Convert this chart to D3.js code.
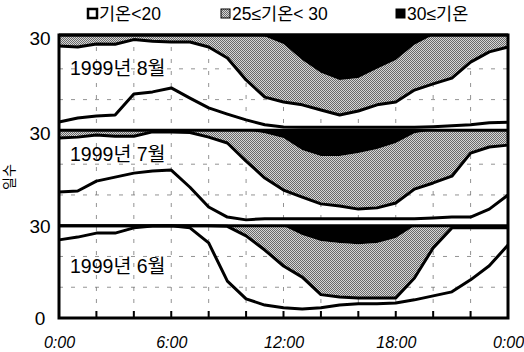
<!DOCTYPE html>
<html><head><meta charset="utf-8">
<script src="https://cdn.jsdelivr.net/npm/d3@7"></script>
<style>
body{margin:0;background:#fff}
svg{display:block}
text{font-family:"Liberation Sans","Noto Sans CJK KR",sans-serif;fill:#000}
</style>
</head><body>
<svg id="c" width="524" height="352"></svg>
<script>
// ---------------- data ----------------
const hours = d3.range(0, 25);                      // 0:00 .. 24:00
const monthLabels = ["1999년 8월", "1999년 7월", "1999년 6월"]; // top -> bottom
const monthDays = [31, 31, 30];
// cumulative counts of days: <20, <25, <30 (top of stack = days in month)
const aug_lt20 = [2.7,4.0,4.7,5.0,11.8,12.5,13.8,10.5,7.3,5.3,3.4,1.8,1.1,1.0,1.0,1.0,1.0,1.0,1.0,1.0,1.2,1.5,1.8,2.5,2.6];
const aug_lt25 = [27.4,27.1,28.1,28.0,29.5,29.0,28.7,28.7,27.1,23.5,16.4,10.8,9.2,8.3,6.6,5.0,6.3,8.3,9.2,13.1,15.1,17.0,22.2,25.5,27.1];
const aug_lt30 = [31,31,31,31,31,31,31,31,31,31,31,30.5,28.1,22.9,18.7,16.4,17.0,20.0,22.9,27.8,31,31,31,31,31];
const jul_lt20 = [11.0,11.3,14.5,15.8,17.1,17.8,18.1,12.5,6.1,2.8,1.9,2.3,2.3,2.3,2.3,2.3,2.3,2.3,2.3,2.3,2.5,2.8,2.8,5.4,10.0];
const jul_lt25 = [28.5,28.8,29.5,29.1,29.1,30.5,30.5,30.3,28.8,26.9,21.0,15.5,11.6,9.3,7.1,6.4,5.4,5.8,7.4,11.9,13.9,16.1,23.6,25.6,26.2];
const jul_lt30 = [31,31,31,31,31,31,31,31,31,31,31,30.1,28.5,24.6,22.7,22.7,23.6,24.9,26.9,30.1,31,31,31,31,31];
const jun_lt20 = [25.4,26.3,27.6,27.6,29.3,29.9,30.0,29.3,24.4,12.0,6.2,4.2,3.3,2.9,3.3,4.2,4.6,4.6,4.9,5.9,7.2,8.5,12.4,17.0,23.7];
const jun_lt25 = [30,30,30,30,30,30,30,30,30,29.8,26.7,22.1,16.9,13.3,7.6,6.8,6.5,6.5,6.5,13.0,22.8,29.3,29.3,29.3,29.3];
const jun_lt30 = [30,30,30,30,30,30,30,30,30,30,30,30,29.9,27.0,25.0,24.4,24.0,24.4,26.0,29.9,30,30,30,30,30];
const xTickHours = [0, 6, 12, 18, 24];
const xTickLabels = ["0:00", "6:00", "12:00", "18:00", "0:00"];
const xMinorHours = d3.range(2, 24, 2);
const yTickLabels = ["30", "30", "30", "0"];
const gridDays = [10, 20];
const legendLabels = ["기온<20", "25≤기온< 30", "30≤기온"];
const yTitle = "일수";

// ---------------- layout ----------------
const svg = d3.select("#c");
const X0 = 59, X1 = 508, YB = 318, YT = 35;
const x = d3.scaleLinear().domain([0, 24]).range([X0, X1]);
const totalDays = d3.sum(monthDays);
const y = d3.scaleLinear().domain([0, totalDays]).range([YB, YT]);
// offsets (cumulative) for each panel, top->bottom order
const offsets = [monthDays[2] + monthDays[1], monthDays[2], 0];
const panels = [
  {lt20: aug_lt20, lt25: aug_lt25, lt30: aug_lt30},
  {lt20: jul_lt20, lt25: jul_lt25, lt30: jul_lt30},
  {lt20: jun_lt20, lt25: jun_lt25, lt30: jun_lt30}
];

const defs = svg.append("defs");
const pat = defs.append("pattern").attr("id", "stip").attr("width", 2).attr("height", 2)
  .attr("patternUnits", "userSpaceOnUse");
pat.append("rect").attr("width", 2).attr("height", 2).attr("fill", "#d6d6d6");
pat.append("rect").attr("width", 1).attr("height", 1).attr("fill", "#6a6a6a");
pat.append("rect").attr("x", 1).attr("y", 1).attr("width", 1).attr("height", 1).attr("fill", "#6a6a6a");

// gridlines
const grid = svg.append("g").attr("stroke", "#777").attr("stroke-width", 0.8)
  .attr("stroke-dasharray", "4,8").attr("fill", "none");
xMinorHours.forEach(h => {
  grid.append("line").attr("x1", x(h)).attr("x2", x(h)).attr("y1", YT).attr("y2", YB);
});
offsets.forEach(off => gridDays.forEach(d => {
  grid.append("line").attr("x1", X0).attr("x2", X1).attr("y1", y(off + d)).attr("y2", y(off + d));
}));

// areas and lines
panels.forEach((p, i) => {
  const off = offsets[i], tot = monthDays[i];
  const g = svg.append("g");
  const grayArea = d3.area().x((d, j) => x(hours[j])).y0((d, j) => y(off + p.lt25[j])).y1((d, j) => y(off + p.lt30[j]));
  const blackArea = d3.area().x((d, j) => x(hours[j])).y0((d, j) => y(off + p.lt30[j])).y1(() => y(off + tot));
  g.append("path").datum(hours).attr("d", grayArea).attr("fill", "url(#stip)");
  g.append("path").datum(hours).attr("d", blackArea).attr("fill", "#000");
  const line = arr => d3.line().x((d, j) => x(hours[j])).y((d, j) => y(off + arr[j]));
  [p.lt20, p.lt25].forEach(arr => {
    g.append("path").datum(hours).attr("d", line(arr)).attr("fill", "none")
      .attr("stroke", "#000").attr("stroke-width", 3).attr("stroke-linejoin", "round");
  });
  g.append("line").attr("x1", X0).attr("x2", X1).attr("y1", y(off + tot)).attr("y2", y(off + tot))
    .attr("stroke", "#000").attr("stroke-width", 3);
  g.append("text").attr("x", 70).attr("y", [75, 161, 273][i]).attr("font-size", 19.5).text(monthLabels[i]);
});

// frame
svg.append("rect").attr("x", X0).attr("y", YT).attr("width", X1 - X0).attr("height", YB - YT)
  .attr("fill", "none").attr("stroke", "#000").attr("stroke-width", 3);

// x axis
const xAxis = d3.axisBottom(x).tickValues(xTickHours).tickFormat((d, i) => xTickLabels[i]).tickSize(0).tickPadding(19);
const ax = svg.append("g").attr("transform", `translate(0,${YB})`).call(xAxis);
ax.select(".domain").remove();
ax.selectAll("text").attr("font-size", 16).attr("font-style", "italic")
  .attr("font-family", "'Liberation Sans', sans-serif");
xMinorHours.forEach(h => {
  svg.append("line").attr("x1", x(h)).attr("x2", x(h)).attr("y1", YB).attr("y2", YB - 7)
    .attr("stroke", "#000").attr("stroke-width", 2);
});

// y labels
const yLabelPos = [offsets[0] + 30, offsets[1] + 30, offsets[2] + 30, 0];
yLabelPos.forEach((v, i) => {
  svg.append("text").attr("x", 40).attr("y", y(v)).attr("dy", "0.36em")
    .attr("text-anchor", "middle").attr("font-size", 19).text(yTickLabels[i]);
});
svg.append("text").attr("transform", "translate(14,177) rotate(-90)").attr("text-anchor", "middle")
  .attr("font-size", 14).text(yTitle);

// legend
const legX = [87, 220, 395];
const fills = ["#fff", "url(#stip)", "#000"];
legendLabels.forEach((t, i) => {
  svg.append("rect").attr("x", legX[i] + 1).attr("y", 9).attr("width", 9).attr("height", 9)
    .attr("fill", fills[i]).attr("stroke", "#000").attr("stroke-width", i === 0 ? 2.5 : 1);
  svg.append("text").attr("x", legX[i] + 12).attr("y", 19.5).attr("font-size", 17.5).text(t);
});
</script>
</body></html>
